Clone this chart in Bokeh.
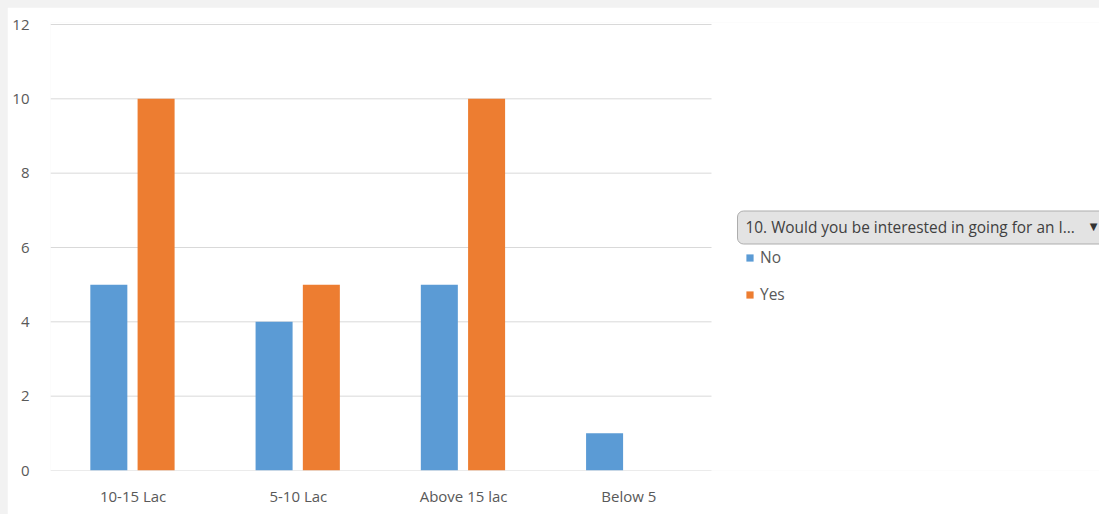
from bokeh.plotting import figure
from bokeh.models import (ColumnDataSource, Range1d, FixedTicker,
                          Legend, LegendItem, Label)
from bokeh.layouts import column
from bokeh.embed import file_html
from bokeh.resources import INLINE

# Income band vs. answer counts
categories = ["10-15 Lac", "5-10 Lac", "Above 15 lac", "Below 5"]
no_counts = [5, 4, 5, 1]
yes_counts = [10, 5, 10, 0]
y_ticks = [0, 2, 4, 6, 8, 10, 12]
series_names = ["No", "Yes"]
filter_title = "10. Would you be interested in going for an I..."

BLUE = "#5B9BD5"
ORANGE = "#ED7D31"
GRID = "#D9D9D9"
TEXT = "#595959"
FONT = "Open Sans"

# categories sit at 1..n; the plot area continues to the right to hold the legend
pos = list(range(1, len(categories) + 1))
BAR_W = 0.224
source = ColumnDataSource(data=dict(
    x_no=[x - 0.147 for x in pos], x_yes=[x + 0.139 for x in pos],
    no=no_counts, yes=yes_counts))

W, H = 1092, 507
LEFT, TOP, BOTTOM = 43, 15, 44
CAT_PX = 165.25          # pixel width of one category slot
frame_w = W - LEFT

p = figure(x_range=Range1d(0.5, 0.5 + frame_w / CAT_PX),
           y_range=Range1d(0, 12.054),
           width=W, height=H,
           min_border_left=LEFT, min_border_right=0,
           min_border_top=TOP, min_border_bottom=BOTTOM,
           output_backend="svg", toolbar_location=None,
           background_fill_color="white", border_fill_color="white")
p.outline_line_color = None
p.xgrid.grid_line_color = None
p.ygrid.grid_line_color = None

# horizontal gridlines limited to the category area
grid_src = ColumnDataSource(data=dict(
    x0=[0.5] * len(y_ticks), x1=[len(categories) + 0.5] * len(y_ticks),
    y=y_ticks))
p.segment(x0="x0", x1="x1", y0="y", y1="y", source=grid_src,
          line_color=GRID, line_width=1)

r_no = p.vbar(x="x_no", top="no", width=BAR_W, source=source,
              fill_color=BLUE, line_color=None)
r_yes = p.vbar(x="x_yes", top="yes", width=BAR_W, source=source,
               fill_color=ORANGE, line_color=None)

# axes
p.yaxis.ticker = FixedTicker(ticks=y_ticks)
p.yaxis.axis_line_color = None
p.yaxis.major_tick_line_color = None
p.yaxis.minor_tick_line_color = None
p.yaxis.major_label_standoff = 15
p.xaxis.ticker = FixedTicker(ticks=pos)
p.xaxis.major_label_overrides = {x: c for x, c in zip(pos, categories)}
p.xaxis.axis_line_color = None
p.xaxis.major_tick_line_color = None
p.xaxis.minor_tick_line_color = None
p.xaxis.major_label_standoff = 9
for ax in (p.xaxis, p.yaxis):
    ax.major_label_text_font = FONT
    ax.major_label_text_font_size = "15px"
    ax.major_label_text_color = TEXT

# series legend
legend = Legend(items=[LegendItem(label=series_names[0], renderers=[r_no]),
                       LegendItem(label=series_names[1], renderers=[r_yes])],
                location=(695, 165), orientation="vertical",
                glyph_width=9, glyph_height=9, label_height=20, spacing=15,
                label_standoff=6, padding=0, margin=0,
                border_line_color=None, background_fill_alpha=0,
                label_text_font=FONT, label_text_font_size="15.5px",
                label_text_color=TEXT)
p.add_layout(legend, "center")

# filter button above the legend
p.add_layout(Label(x=687, y=243, x_units="screen", y_units="screen",
                   text=filter_title, text_font=FONT, text_font_size="15.4px",
                   text_color="#404040", text_align="left", text_baseline="middle",
                   padding=dict(left=8, right=40, top=6, bottom=6),
                   border_radius=6, background_fill_color="#E3E3E3",
                   border_line_color="#ADADAD"))
p.add_layout(Label(x=1043, y=244, x_units="screen", y_units="screen",
                   text="\u25BC", text_font="DejaVu Sans", text_font_size="10px",
                   text_color="#333333", text_align="center", text_baseline="middle"))

page = column(p, styles={"background-color": "#F2F2F2",
                         "padding-left": "7px", "padding-top": "7px"})

open("out.html", "w").write(file_html(page, INLINE))
